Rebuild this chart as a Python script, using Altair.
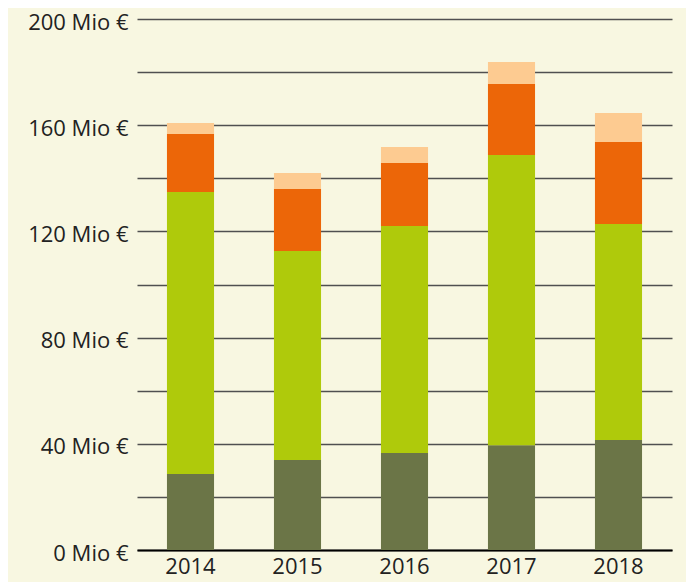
import altair as alt
import pandas as pd

years = ["2014", "2015", "2016", "2017", "2018"]
segments = ["A", "B", "C", "D"]  # bottom to top
seg_colors = ["#6b7547", "#afca0b", "#ec6608", "#fdcb91"]
dark_vals = [28.6, 33.9, 36.5, 39.5, 41.4]
green_vals = [106.2, 78.7, 85.5, 109.3, 81.4]
orange_vals = [21.9, 23.4, 23.8, 26.7, 30.9]
peach_vals = [4.1, 6.0, 6.0, 8.3, 10.9]
y_ticks = [0, 20, 40, 60, 80, 100, 120, 140, 160, 180, 200]

series = [dark_vals, green_vals, orange_vals, peach_vals]
rows = []
for si, (seg, vals) in enumerate(zip(segments, series)):
    for yr, v in zip(years, vals):
        rows.append({"year": yr, "segment": seg, "order": si, "value": v})
df = pd.DataFrame(rows)

chart = (
    alt.Chart(df)
    .mark_bar()
    .encode(
        x=alt.X(
            "year:N",
            sort=years,
            title=None,
            scale=alt.Scale(paddingInner=0.56, paddingOuter=0.28),
            axis=alt.Axis(
                labelAngle=0,
                ticks=False,
                domain=True,
                domainColor="#000000",
                domainWidth=2.2,
                labelPadding=6,
                labelFontSize=22,
                labelFont="Open Sans",
                labelColor="#222222",
                grid=False,
            ),
        ),
        y=alt.Y(
            "value:Q",
            stack="zero",
            title=None,
            scale=alt.Scale(domain=[0, 200], nice=False),
            axis=alt.Axis(
                values=y_ticks,
                labelExpr="datum.value % 40 == 0 ? datum.value + ' Mio €' : ''",
                ticks=False,
                domain=False,
                grid=True,
                gridColor="#505050",
                gridWidth=1.4,
                labelPadding=9,
                labelOffset=3,
                labelFontSize=22,
                labelFont="Open Sans",
                labelColor="#222222",
            ),
        ),
        color=alt.Color(
            "segment:N",
            scale=alt.Scale(domain=segments, range=seg_colors),
            legend=None,
        ),
        order=alt.Order("order:Q", sort="ascending"),
    )
    .properties(
        width=535,
        height=531,
        background="#f8f7e1",
        padding={"left": 129, "top": 11, "right": 14, "bottom": 32},
        autosize=alt.AutoSizeParams(type="none"),
    )
    .configure_view(stroke=None)
)

chart.save("out.html", embed_options={"renderer": "svg", "actions": False})
